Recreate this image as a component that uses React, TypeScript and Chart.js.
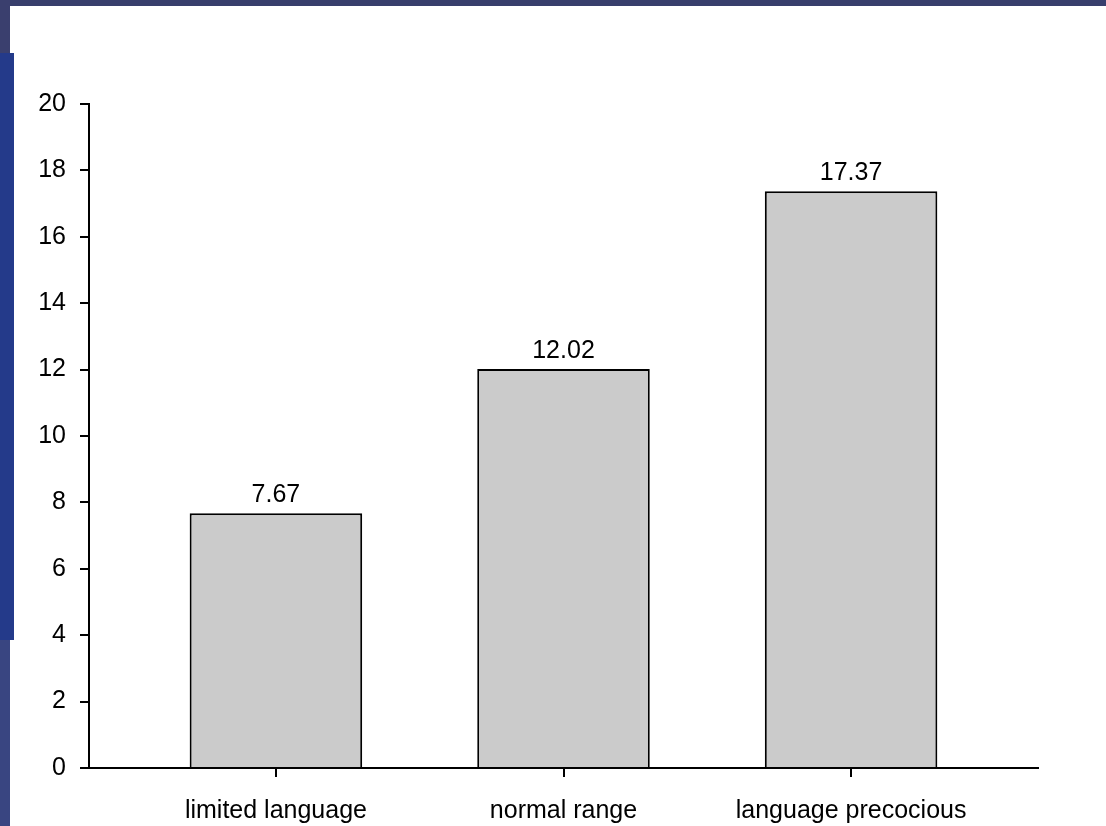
import React, { useEffect, useRef } from "react";
import { Chart, registerables } from "chart.js";

Chart.register(...registerables);

const categories = ["limited language", "normal range", "language precocious"];
const values = [7.67, 12.02, 17.37];
const yTicks = [0, 2, 4, 6, 8, 10, 12, 14, 16, 18, 20];

const FONT = "'Liberation Sans', Arial, sans-serif";

const valueLabels = {
  id: "valueLabels",
  afterDatasetsDraw(chart: any) {
    const ctx = chart.ctx;
    const meta = chart.getDatasetMeta(0);
    ctx.save();
    ctx.fillStyle = "#000";
    ctx.font = `25px ${FONT}`;
    ctx.textAlign = "center";
    ctx.textBaseline = "alphabetic";
    meta.data.forEach((bar: any, i: number) => {
      ctx.fillText(values[i].toFixed(2), bar.x, bar.y - 11);
    });
    ctx.restore();
  },
};

export default function App() {
  const ref = useRef<HTMLCanvasElement | null>(null);

  useEffect(() => {
    if (!ref.current) return;
    const chart = new Chart(ref.current, {
      type: "bar",
      data: {
        datasets: [
          {
            data: values.map((v, i) => ({ x: i, y: v })),
            backgroundColor: "#cbcbcb",
            borderColor: "#000",
            borderWidth: 2,
            barPercentage: 0.6,
            categoryPercentage: 1,
          },
        ],
      },
      options: {
        animation: false,
        responsive: false,
        devicePixelRatio: 1,
        layout: { padding: { left: 0, right: 68, top: 104, bottom: 0 } },
        plugins: { legend: { display: false }, tooltip: { enabled: false } },
        scales: {
          x: {
            type: "linear",
            offset: false,
            min: -0.65,
            max: 2.65,
            afterBuildTicks: (scale: any) => {
              scale.ticks = categories.map((_, i) => ({ value: i }));
            },
            afterFit: (scale: any) => {
              scale.height = 58;
            },
            ticks: {
              callback: (v: any) => categories[Math.round(v as number)] ?? "",
              color: "#000",
              font: { size: 25, family: FONT },
              padding: 19,
              maxRotation: 0,
              autoSkip: false,
            },
            grid: {
              display: true,
              offset: false,
              drawOnChartArea: false,
              drawTicks: true,
              tickLength: 9,
              color: "#000",
              lineWidth: 2,
            },
            border: { display: true, color: "#000", width: 2 },
          },
          y: {
            min: 0,
            max: 20,
            afterBuildTicks: (scale: any) => {
              scale.ticks = yTicks.map((v) => ({ value: v }));
            },
            afterFit: (scale: any) => {
              scale.width = 89;
            },
            ticks: {
              color: "#000",
              font: { size: 25, family: FONT },
              padding: 14,
            },
            grid: {
              display: true,
              drawOnChartArea: false,
              drawTicks: true,
              tickLength: 9,
              color: "#000",
              lineWidth: 2,
            },
            border: { display: true, color: "#000", width: 2 },
          },
        },
      },
      plugins: [valueLabels],
    } as any);
    return () => chart.destroy();
  }, []);

  return (
    <div
      style={{
        position: "fixed",
        left: 0,
        top: 0,
        width: 1106,
        height: 826,
        background: "#fff",
        overflow: "hidden",
      }}
    >
      <div style={{ position: "absolute", left: 0, top: 0, width: 1106, height: 6, background: "#383e6c" }} />
      <div style={{ position: "absolute", left: 0, top: 0, width: 10, height: 53, background: "#3a3f6e" }} />
      <div style={{ position: "absolute", left: 0, top: 53, width: 14, height: 587, background: "#243a8a" }} />
      <div style={{ position: "absolute", left: 0, top: 640, width: 10, height: 186, background: "#394581" }} />
      <canvas
        ref={ref}
        width={1106}
        height={826}
        style={{ position: "absolute", left: 0, top: 0, width: 1106, height: 826 }}
      />
    </div>
  );
}
